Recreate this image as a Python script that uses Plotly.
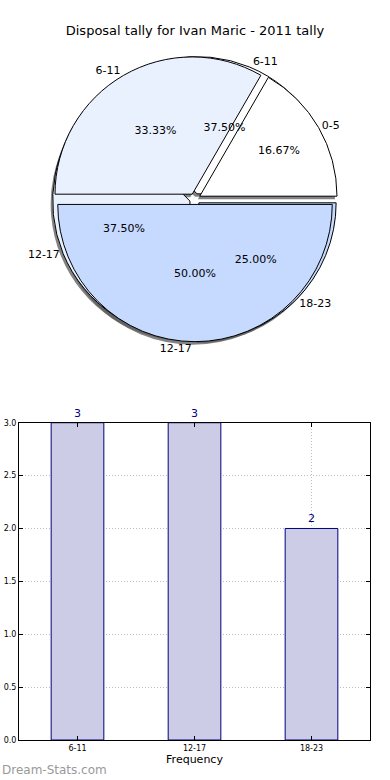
import plotly.graph_objects as go

# ---- data ----
pie_a_labels = ["6-11", "12-17", "18-23"]
pie_a_values = [3, 3, 2]
pie_b_labels = ["0-5", "6-11", "12-17"]
pie_b_values = [1, 2, 3]
slice_colors = ["#ffffff", "#eaf1fe", "#c6d9fe"]

bar_categories = ["6-11", "12-17", "18-23"]
bar_values = [3, 3, 2]
y_ticks = [0.0, 0.5, 1.0, 1.5, 2.0, 2.5, 3.0]

title_text = "Disposal tally for Ivan Maric - 2011 tally"

# ---- layout geometry ----
W, H = 390, 780
ML, MR, MT, MB = 19, 20, 0, 40
PW, PH = W - ML - MR, H - MT - MB
PULL = 0.04
R = 138
half = R * (1 + PULL)
cx, cy = 195, 196
fx = (cx - ML) / PW
fy = (PH - (cy - MT)) / PH
dom_x = [fx - half / PW, fx + half / PW]
dom_y = [fy - half / PH, fy + half / PH]
sdx, sdy = -2 / PW, -3 / PH
shadow_x = [dom_x[0] + sdx, dom_x[1] + sdx]
shadow_y = [dom_y[0] + sdy, dom_y[1] + sdy]

FONT = "DejaVu Sans"
fig = go.Figure()


def pie(labels, values, domain, colors, line_w, text=None, textpos="none", tmpl=None):
    # matplotlib-style: first slice starts at 3 o'clock, going counterclockwise
    rot = 90 - 360 * values[0] / sum(values)
    return go.Pie(
        labels=labels, values=values, sort=False, direction="counterclockwise",
        rotation=rot, pull=[PULL] * len(values), domain=dict(x=domain[0], y=domain[1]),
        marker=dict(colors=colors, line=dict(color="black", width=line_w)),
        textinfo=text if text else "none", textposition=textpos, texttemplate=tmpl,
        insidetextorientation="horizontal",
        textfont=dict(family=FONT, size=11, color="black"),
        showlegend=False, hoverinfo="skip",
    )


clear = ["rgba(0,0,0,0)"] * 3
shadow = ["rgba(90,90,90,0.75)"] * 3
# shadows
fig.add_trace(pie(pie_a_labels, pie_a_values, (shadow_x, shadow_y), shadow, 0))
fig.add_trace(pie(pie_b_labels, pie_b_values, (shadow_x, shadow_y), shadow, 0))
# fills
fig.add_trace(pie(pie_a_labels, pie_a_values, (dom_x, dom_y), slice_colors, 1))
fig.add_trace(pie(pie_b_labels, pie_b_values, (dom_x, dom_y), slice_colors, 1))
# texts
for lab, val in ((pie_a_labels, pie_a_values), (pie_b_labels, pie_b_values)):
    fig.add_trace(pie(lab, val, (dom_x, dom_y), clear, 0, text="percent",
                      textpos="inside", tmpl="%{percent:.2%}"))
    fig.add_trace(pie(lab, val, (dom_x, dom_y), clear, 0, text="label",
                      textpos="outside", tmpl="%{label}"))

# bars
fig.add_trace(go.Bar(
    x=bar_categories, y=bar_values, width=0.45,
    marker=dict(color="#ccccE6", line=dict(color="#000080", width=1)),
    text=[str(v) for v in bar_values], textposition="outside", cliponaxis=False,
    textfont=dict(family=FONT, size=11, color="#000080"),
    showlegend=False, hoverinfo="skip",
))

axis_common = dict(
    showline=True, linecolor="black", linewidth=1, mirror="ticks",
    ticks="inside", ticklen=4, tickcolor="black",
    showgrid=True, gridcolor="#bdbdbd", gridwidth=1, griddash="1px,2px",
    tickfont=dict(family=FONT, size=8, color="black"),
    zeroline=False, layer="above traces",
)

fig.update_layout(
    width=W, height=H,
    margin=dict(l=ML, r=MR, t=MT, b=MB),
    paper_bgcolor="white", plot_bgcolor="white",
    font=dict(family=FONT, color="black"),
    title=dict(text=title_text, x=0.5, xanchor="center", y=1 - 30 / H,
               yanchor="middle", yref="container",
               font=dict(family=FONT, size=13, color="black")),
    xaxis=dict(axis_common, domain=[0, 1], range=[-0.5, 2.5],
               title=dict(text="Frequency", standoff=2,
                          font=dict(family=FONT, size=11, color="black"))),
    yaxis=dict(axis_common, domain=[0, (740 - 421) / PH], range=[0, 3],
               tickvals=y_ticks, tickformat=".1f"),
    annotations=[dict(text="Dream-Stats.com", xref="paper", yref="paper",
                      x=0, y=0, xanchor="left", yanchor="middle", xshift=-19,
                      yshift=-30, showarrow=False,
                      font=dict(family=FONT, size=12, color="#999999"))],
)

fig.write_html("out.html", config={"displayModeBar": False},
               post_script="document.body.style.margin='0';")
